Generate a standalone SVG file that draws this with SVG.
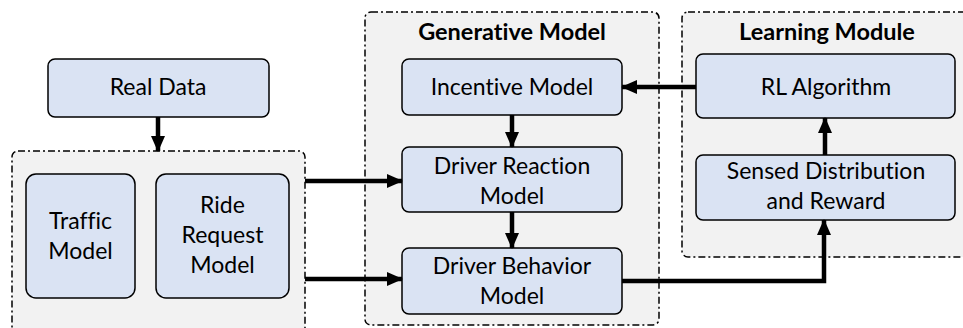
<svg xmlns="http://www.w3.org/2000/svg" width="963" height="328" viewBox="0 0 963 328">
<style>
.grp{fill:#f2f2f2;stroke:#000;stroke-width:1.5;stroke-dasharray:7 3 2 3}
.box{fill:#dae3f3;stroke:#000;stroke-width:1.5}
.t{font-family:Lato,"Liberation Sans",sans-serif;font-size:23px;fill:#000;text-anchor:middle;font-variant-ligatures:none}
.h{font-family:Lato,"Liberation Sans",sans-serif;font-size:23.5px;font-weight:bold;fill:#000;text-anchor:middle;font-variant-ligatures:none}
.c{fill:none;stroke:#000;stroke-width:4.5}
</style>
<defs>
<marker id="ah" markerUnits="userSpaceOnUse" markerWidth="16" markerHeight="16" viewBox="0 0 16 16" refX="15" refY="8" orient="auto">
<path d="M0,1 L16,8 L0,15 Z" fill="#000"/>
</marker>
</defs>
<rect width="963" height="328" fill="#fff"/>
<g id="input-group">
<rect class="grp" x="12" y="151" width="293" height="190" rx="6"/>
</g>
<g id="generative-group">
<rect class="grp" x="365" y="12" width="294" height="313" rx="6"/>
<text class="h" x="512" y="40">Generative Model</text>
</g>
<g id="learning-group">
<rect class="grp" x="682" y="12" width="300" height="245" rx="6"/>
<text class="h" x="827" y="40">Learning Module</text>
</g>
<g id="real-data">
<rect class="box" x="48" y="59" width="221" height="58" rx="7"/>
<text class="t" x="158" y="95">Real Data</text>
</g>
<g id="traffic-model">
<rect class="box" x="26" y="174" width="109" height="124" rx="10"/>
<text class="t" x="80.5" y="229">Traffic</text>
<text class="t" x="80.5" y="259">Model</text>
</g>
<g id="ride-request-model">
<rect class="box" x="156" y="174" width="133" height="124" rx="10"/>
<text class="t" x="222.5" y="213">Ride</text>
<text class="t" x="222.5" y="243">Request</text>
<text class="t" x="222.5" y="273">Model</text>
</g>
<g id="incentive-model">
<rect class="box" x="402" y="59" width="220" height="56" rx="7"/>
<text class="t" x="512" y="95">Incentive Model</text>
</g>
<g id="driver-reaction-model">
<rect class="box" x="402" y="147" width="220" height="65" rx="7"/>
<text class="t" x="512" y="174">Driver Reaction</text>
<text class="t" x="512" y="204">Model</text>
</g>
<g id="driver-behavior-model">
<rect class="box" x="402" y="248" width="220" height="66" rx="7"/>
<text class="t" x="512" y="274">Driver Behavior</text>
<text class="t" x="512" y="304">Model</text>
</g>
<g id="rl-algorithm">
<rect class="box" x="696" y="54" width="259" height="64" rx="7"/>
<text class="t" x="826" y="95">RL Algorithm</text>
</g>
<g id="sensed-distribution">
<rect class="box" x="696" y="155" width="259" height="65" rx="7"/>
<text class="t" x="826" y="179">Sensed Distribution</text>
<text class="t" x="826" y="209">and Reward</text>
</g>
<g id="connectors">
<line class="c" x1="158" y1="117" x2="158" y2="151" marker-end="url(#ah)"/>
<line class="c" x1="305" y1="181" x2="402" y2="181" marker-end="url(#ah)"/>
<line class="c" x1="305" y1="279" x2="402" y2="279" marker-end="url(#ah)"/>
<line class="c" x1="512" y1="115" x2="512" y2="147" marker-end="url(#ah)"/>
<line class="c" x1="512" y1="212" x2="512" y2="248" marker-end="url(#ah)"/>
<line class="c" x1="696" y1="87" x2="622" y2="87" marker-end="url(#ah)"/>
<line class="c" x1="825" y1="155" x2="825" y2="118" marker-end="url(#ah)"/>
<path class="c" d="M622,281 H824 V220" marker-end="url(#ah)"/>
</g>
</svg>
